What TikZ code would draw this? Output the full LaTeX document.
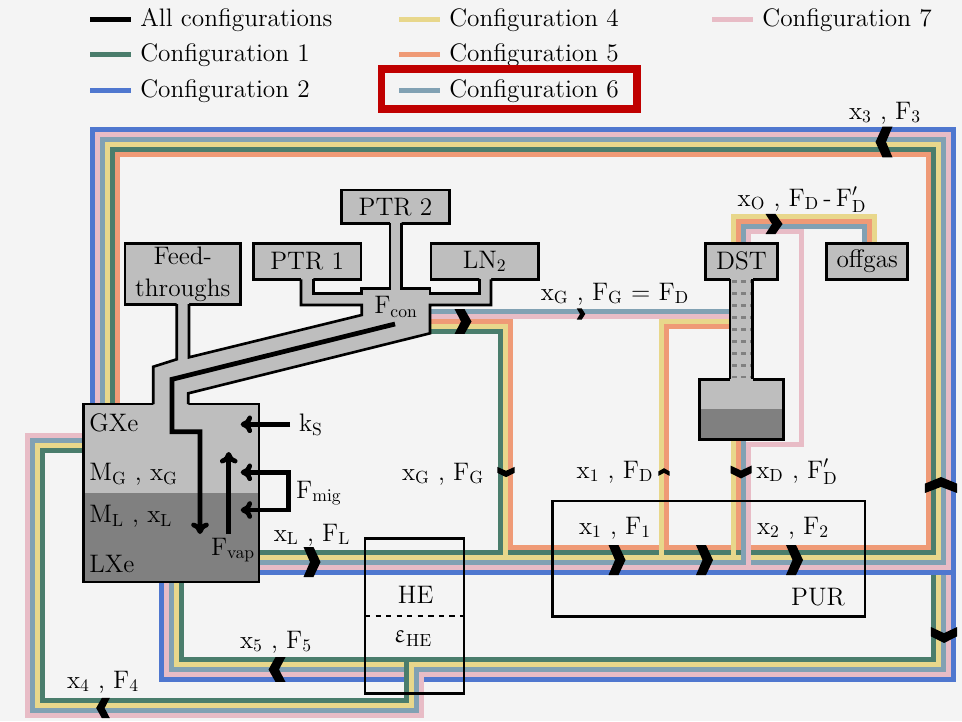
\documentclass[tikz,border=0pt]{standalone}
\usepackage{amsmath}
\usepackage{amssymb}
\usepackage{upgreek}
\usetikzlibrary{arrows.meta}
\definecolor{bggray}{HTML}{F4F4F4}
\definecolor{lightxe}{HTML}{BEBEBE}
\definecolor{darkxe}{HTML}{808080}
\definecolor{confone}{HTML}{4A7D6C}
\definecolor{conftwo}{HTML}{4F77CF}
\definecolor{conffour}{HTML}{E8D78B}
\definecolor{conffive}{HTML}{EF9A76}
\definecolor{confsix}{HTML}{81A1B3}
\definecolor{confseven}{HTML}{E8BCC6}
\definecolor{hilite}{HTML}{C00000}
\tikzset{every node/.style={font=\Large,inner sep=0pt}}
\tikzset{pipe/.style={line width=2.84pt}}
\tikzset{wall/.style={line width=1.5pt}}
\tikzset{thickflow/.style={line width=2.7pt,-{Computer Modern Rightarrow[length=6.5pt,width=10pt]}}}
\tikzset{bothflow/.style={line width=2.7pt,{Computer Modern Rightarrow[length=6.5pt,width=10pt]}-{Computer Modern Rightarrow[length=6.5pt,width=10pt]}}}
\tikzset{devbox/.style={draw,wall,fill=lightxe}}
\tikzset{coldtray/.style={darkxe,wall,dash pattern=on 2.8pt off 2.3pt}}
\tikzset{flowmark/.pic={\fill (-8.5,-15) -- (1.5,-15) -- (8.5,0) -- (1.5,15) -- (-8.5,15) -- (-2,0) -- cycle;}}

\begin{document}
\begin{tikzpicture}[x=0.02cm,y=-0.02cm]
\fill[bggray] (0,0) rectangle (962,721);
\useasboundingbox (0,0) rectangle (962,721);
% legend
\draw[pipe,black] (90,19) -- (131,19);
\node[anchor=west] (legall) at (140,20) {All configurations};
\draw[pipe,confone] (90,54.5) -- (131,54.5);
\node[anchor=west] (legone) at (140,55.5) {Configuration 1};
\draw[pipe,conftwo] (90,90) -- (131,90);
\node[anchor=west] (legtwo) at (140,91) {Configuration 2};
\draw[pipe,conffour] (399,19) -- (440,19);
\node[anchor=west] (legfour) at (449,20) {Configuration 4};
\draw[pipe,conffive] (399,54.5) -- (440,54.5);
\node[anchor=west] (legfive) at (449,55.5) {Configuration 5};
\draw[pipe,confsix] (399,90) -- (440,90);
\node[anchor=west] (legsix) at (449,91) {Configuration 6};
\draw[pipe,confseven] (712,19) -- (753,19);
\node[anchor=west] (legseven) at (762,20) {Configuration 7};
\draw[hilite,line width=4.3pt] (381.5,69) rectangle (637,109);
% return loop below the main line
\draw[pipe,conftwo] (953.5,575) -- (953.5,679.5) -- (161.5,679.5) -- (161.5,582);
\draw[pipe,confseven] (948.5,575) -- (948.5,674.5) -- (166.5,674.5) -- (166.5,582);
\draw[pipe,confsix] (943.5,575) -- (943.5,669.5) -- (171.5,669.5) -- (171.5,582);
\draw[pipe,conffour] (938.5,575) -- (938.5,664.5) -- (176.5,664.5) -- (176.5,582);
\draw[pipe,confone] (933.5,575) -- (933.5,659.5) -- (181.5,659.5) -- (181.5,582);
\draw[pipe,confseven] (421.5,674.5) -- (421.5,715.5) -- (27.5,715.5) -- (27.5,435.5) -- (90,435.5);
\draw[pipe,confsix] (416.5,669.5) -- (416.5,710.5) -- (32.5,710.5) -- (32.5,440.5) -- (90,440.5);
\draw[pipe,conffour] (411.5,664.5) -- (411.5,705.5) -- (37.5,705.5) -- (37.5,445.5) -- (90,445.5);
\draw[pipe,confone] (406.5,659.5) -- (406.5,700.5) -- (42.5,700.5) -- (42.5,450.5) -- (90,450.5);
% main line and big loop
\draw[pipe,conftwo] (250,572.5) -- (953.5,572.5) -- (953.5,129.5) -- (92.5,129.5) -- (92.5,410);
\draw[pipe,confseven] (250,567.5) -- (948.5,567.5) -- (948.5,134.5) -- (97.5,134.5) -- (97.5,410);
\draw[pipe,confsix] (250,562.5) -- (943.5,562.5) -- (943.5,139.5) -- (102.5,139.5) -- (102.5,410);
\draw[pipe,conffour] (250,557.5) -- (938.5,557.5) -- (938.5,144.5) -- (107.5,144.5) -- (107.5,410);
\draw[pipe,confone] (250,552.5) -- (933.5,552.5) -- (933.5,149.5) -- (112.5,149.5) -- (112.5,410);
\draw[pipe,conffive] (428,321.5) -- (510.5,321.5) -- (510.5,547.5) -- (928.5,547.5) -- (928.5,154.5) -- (117.5,154.5) -- (117.5,410);
\draw[pipe,conffour] (428,326.5) -- (505.5,326.5) -- (505.5,557.5);
\draw[pipe,confone] (428,331.5) -- (500.5,331.5) -- (500.5,552.5);
% condenser to column
\draw[pipe,confsix] (428,311.5) -- (735,311.5);
\draw[pipe,confseven] (428,316.5) -- (735,316.5);
\draw[pipe,conffour] (735,321.5) -- (661.5,321.5) -- (661.5,557.5);
\draw[pipe,conffive] (735,326.5) -- (666.5,326.5) -- (666.5,547.5);
% column outlets
\draw[pipe,conffour] (733.5,435) -- (733.5,557.5);
\draw[pipe,conffive] (738.5,435) -- (738.5,547.5);
\draw[pipe,confsix] (743.5,435) -- (743.5,562.5);
\draw[pipe,confseven] (748.5,250) -- (748.5,231.5) -- (801.5,231.5) -- (801.5,444.5) -- (748.5,444.5) -- (748.5,567.5);
\draw[pipe,conffour] (733.5,250) -- (733.5,216.5) -- (874.5,216.5) -- (874.5,250);
\draw[pipe,conffive] (738.5,250) -- (738.5,221.5) -- (869.5,221.5) -- (869.5,250);
\draw[pipe,confsix] (743.5,250) -- (743.5,226.5) -- (864.5,226.5) -- (864.5,250);
% xenon vessel
\fill[lightxe] (83.5,404) rectangle (259,493);
\fill[darkxe] (83.5,493) rectangle (259,582);
\draw[wall] (83.5,404) rectangle (259,582);
% boxes
\node[devbox,minimum width=2.15cm,minimum height=0.67cm] (ptrtwo) at (395.5,206.7) {PTR 2};
\node[devbox,minimum width=2.15cm,minimum height=0.72cm] (ptrone) at (307.2,261.3) {PTR 1};
\node[devbox,minimum width=2.15cm,minimum height=0.72cm] (lntwo) at (484.7,261.3) {LN$_2$};
\node[devbox,minimum width=2.31cm,minimum height=1.21cm,align=center] (feed) at (182.8,274) {Feed-\\throughs};
\node[devbox,minimum width=1.43cm,minimum height=0.72cm] (dst) at (741.5,261.3) {DST};
\node[devbox,minimum width=1.62cm,minimum height=0.72cm] (offgas) at (867.2,261.3) {offgas};
% cold head pipes
\fill[lightxe] (153.3,407) -- (153.3,366.7) -- (176.7,359.3) -- (176.7,302) -- (189,302) -- (189,357.3) -- (361.7,315) -- (361.7,305) -- (301,305) -- (301,277) -- (313.3,277) -- (313.3,293.3) -- (361.7,293.3) -- (361.7,288.3) -- (390,288.3) -- (390,221) -- (401.7,221) -- (401.7,288.3) -- (430,288.3) -- (430,293.3) -- (479.3,293.3) -- (479.3,277) -- (491,277) -- (491,305) -- (430,305) -- (430,333.3) -- (188.3,393.3) -- (188.3,407) -- cycle;
\draw[wall] (153.3,404) -- (153.3,366.7) -- (176.7,359.3) -- (176.7,304);
\draw[wall] (189,304) -- (189,357.3) -- (361.7,315) -- (361.7,305) -- (301,305) -- (301,279.3);
\draw[wall] (313.3,279.3) -- (313.3,293.3) -- (361.7,293.3) -- (361.7,288.3) -- (390,288.3) -- (390,223.3);
\draw[wall] (401.7,223.3) -- (401.7,288.3) -- (430,288.3) -- (430,293.3) -- (479.3,293.3) -- (479.3,279.3);
\draw[wall] (491,279.3) -- (491,305) -- (430,305) -- (430,333.3) -- (188.3,393.3) -- (188.3,404);
% distillation column
\fill[lightxe] (699.3,379.3) rectangle (783.3,408.7);
\fill[darkxe] (699.3,408.7) rectangle (783.3,439.3);
\draw[wall] (699.3,379.3) rectangle (783.3,439.3);
\fill[lightxe] (730,277) rectangle (752.7,382);
\draw[wall] (730,279.3) -- (730,379.3);
\draw[wall] (752.7,279.3) -- (752.7,379.3);
\draw[coldtray] (732,281.7) -- (751,281.7);
\draw[coldtray] (732,293.7) -- (751,293.7);
\draw[coldtray] (732,305.7) -- (751,305.7);
\draw[coldtray] (732,317.7) -- (751,317.7);
\draw[coldtray] (732,329.7) -- (751,329.7);
\draw[coldtray] (732,341.7) -- (751,341.7);
\draw[coldtray] (732,353.5) -- (751,353.5);
\draw[coldtray] (732,365.5) -- (751,365.5);
\draw[coldtray] (732,377) -- (751,377);
% heat exchanger and purifier
\draw[wall] (365,538.3) rectangle (464,693.3);
\draw[wall,dashed] (365,616) -- (464,616);
\draw[wall] (552.7,501) rectangle (865,616.7);
\node (he) at (415.7,595) {HE};
\node (eps) at (413,639) {$\upvarepsilon_{\mathrm{HE}}$};
\node (pur) at (818,597) {PUR};
% flows inside the vessel
\draw[thickflow] (395,324) -- (172,379.3) -- (172,431.7) -- (200,431.7) -- (200,534);
\draw[thickflow] (228.7,534) -- (228.7,452);
\draw[thickflow] (290,424.3) -- (240.7,424.3);
\draw[bothflow] (240.7,472.3) -- (288.3,472.3) -- (288.3,510) -- (240.7,510);
% flow marks
\pic[] at (312,562) {flowmark};
\pic[] at (617,560) {flowmark};
\pic[] at (704.5,560) {flowmark};
\pic[] at (794.5,560) {flowmark};
\pic[rotate=90,xscale=.94,yscale=1.07] at (941,485) {flowmark};
\pic[rotate=-90,xscale=.94,yscale=.87] at (944,635) {flowmark};
\pic[rotate=180,yscale=1.03] at (884,142) {flowmark};
\pic[rotate=180,yscale=.83] at (277,669.5) {flowmark};
\pic[rotate=180,xscale=.8,yscale=.67] at (103,708) {flowmark};
\pic[yscale=.83] at (463,321.5) {flowmark};
\pic[yscale=.67] at (774,224) {flowmark};
\pic[rotate=-90,xscale=.76,yscale=.7] at (741,472) {flowmark};
\pic[rotate=-90,xscale=.6,yscale=.57] at (506,472) {flowmark};
\pic[rotate=90,xscale=.45,yscale=.37] at (664,472) {flowmark};
\pic[xscale=.5,yscale=.37] at (581,314) {flowmark};
% labels
\node (gxe) [anchor=west] at (89,423) {GXe};
\node (mg) [anchor=west] at (89,474) {M$_{\mathrm{G}}$ , x$_{\mathrm{G}}$};
\node (ml) [anchor=west] at (89,516) {M$_{\mathrm{L}}$ , x$_{\mathrm{L}}$};
\node (lxe) [anchor=west] at (89,564) {LXe};
\node (ks) at (311,425) {k$_{\mathrm{S}}$};
\node (fmig) at (319,493) {F$_{\mathrm{mig}}$};
\node (fvap) at (233,550) {F$_{\mathrm{vap}}$};
\node (fcon) at (396,307) {F$_{\mathrm{con}}$};
\node (xlfl) at (312,535) {x$_{\mathrm{L}}$ , F$_{\mathrm{L}}$};
\node (xfive) at (276,642) {x$_5$ , F$_5$};
\node (xfour) at (103,682) {x$_4$ , F$_4$};
\node (xthree) at (885,113) {x$_3$ , F$_3$};
\node (xgfg) at (443,474) {x$_{\mathrm{G}}$ , F$_{\mathrm{G}}$};
\node (xgfd) at (615,294) {x$_{\mathrm{G}}$ , F$_{\mathrm{G}}$ = F$_{\mathrm{D}}$};
\node (xofo) at (802,200) {x$_{\mathrm{O}}$ , F$_{\mathrm{D}}$\,-\,F$'_{\mathrm{D}}$};
\node (xonefd) at (615,472) {x$_1$ , F$_{\mathrm{D}}$};
\node (xdfd) at (797,472) {x$_{\mathrm{D}}$ , F$'_{\mathrm{D}}$};
\node (xonefone) at (615,528) {x$_1$ , F$_1$};
\node (xtwoftwo) at (793,528) {x$_2$ , F$_2$};
\end{tikzpicture}
\end{document}
